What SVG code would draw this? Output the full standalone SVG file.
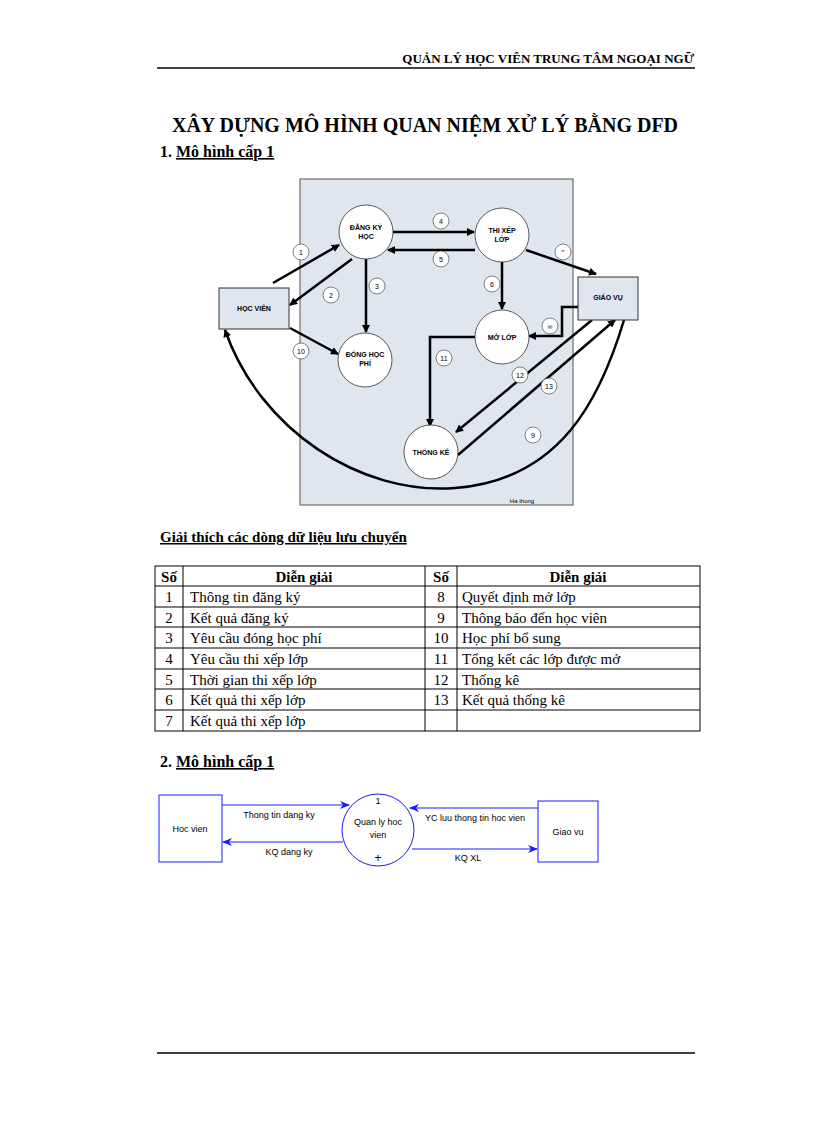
<svg xmlns="http://www.w3.org/2000/svg" width="816" height="1123" viewBox="0 0 816 1123">
<defs>
<marker id="ab" markerWidth="8" markerHeight="8" refX="7" refY="4" orient="auto" markerUnits="userSpaceOnUse"><path d="M0,0 L8,4 L0,8 z" fill="#000"/></marker>
<marker id="abl" markerWidth="10" markerHeight="8" refX="9" refY="4" orient="auto" markerUnits="userSpaceOnUse"><path d="M0,0 L10,4 L0,8 L3,4 z" fill="#1a1aff"/></marker>
<style>
.t{font-family:"Liberation Serif",serif;font-size:15px;fill:#000}
.b{font-weight:bold}
.s{font-family:"Liberation Sans",Arial,sans-serif;font-size:7px;font-weight:bold;fill:#000;text-anchor:middle}
.n{font-family:"Liberation Sans",Arial,sans-serif;font-size:7px;fill:#000;text-anchor:middle}
.c{fill:#fff;stroke:#333;stroke-width:0.8}
.cn{fill:#fff;stroke:#333;stroke-width:0.6}
.e{stroke:#000;stroke-width:2.5;fill:none;marker-end:url(#ab)}
.bl{stroke:#1a1aff;stroke-width:1;fill:none}
.l2{font-family:"Liberation Sans",Arial,sans-serif;font-size:9px;fill:#000;text-anchor:middle}
.g{stroke:#000;stroke-width:1}
</style>
</defs>
<text x="694" y="63" class="t b" font-size="13" text-anchor="end" style="font-size:13px">QUẢN LÝ HỌC VIÊN TRUNG TÂM NGOẠI NGỮ</text>
<line x1="157" y1="68" x2="695" y2="68" stroke="#000" stroke-width="1.5"/>
<text x="425" y="132" class="t b" text-anchor="middle" style="font-size:20px">XÂY DỰNG MÔ HÌNH  QUAN NIỆM XỬ LÝ BẰNG DFD</text>
<text x="160" y="157" class="t b" style="font-size:16px">1. <tspan text-decoration="underline">Mô hình cấp 1</tspan></text>

<rect x="300" y="179" width="273" height="326" fill="#dfe6ee" stroke="#555" stroke-width="1"/>
<text x="522" y="503" class="n" style="font-size:6px;font-weight:normal">Ha thong</text>

<g id="connectors">
<path class="e" d="M273,283 L339,245"/>
<path class="e" d="M352,259 L290,305"/>
<path class="e" d="M366,259 L366,332"/>
<path class="e" d="M393,232 L474,232"/>
<path class="e" d="M475,250 L388,250"/>
<path class="e" d="M502,262 L502,309"/>
<path class="e" d="M526,250 L596,274"/>
<path class="e" d="M578,307 L562,307 L562,336 L529,336"/>
<path class="e" d="M475,337 L430,337 L430,426"/>
<path class="e" d="M592,320 L456,432"/>
<path class="e" d="M458,455 L615,320"/>
<path class="e" d="M290,328 L338,354"/>
<path class="e" d="M624,320 C600,400 560,480 455,488 C360,495 260,430 225,330"/>
</g>
<g id="labels">
<circle cx="301" cy="252" r="8" class="cn"/><text x="301" y="255" class="n">1</text>
<circle cx="331" cy="295" r="8" class="cn"/><text x="331" y="298" class="n">2</text>
<circle cx="377" cy="286" r="8" class="cn"/><text x="377" y="289" class="n">3</text>
<circle cx="441" cy="221" r="8" class="cn"/><text x="441" y="224" class="n">4</text>
<circle cx="441" cy="259" r="8" class="cn"/><text x="441" y="262" class="n">5</text>
<circle cx="492" cy="284" r="8" class="cn"/><text x="492" y="287" class="n">6</text>
<circle cx="563" cy="252" r="8" class="cn"/><text x="563" y="255" class="n">⌃</text>
<circle cx="550" cy="326" r="8" class="cn"/><text x="550" y="329" class="n">∞</text>
<circle cx="444" cy="358" r="8" class="cn"/><text x="444" y="361" class="n">11</text>
<circle cx="520" cy="375" r="8" class="cn"/><text x="520" y="378" class="n">12</text>
<circle cx="549" cy="386" r="8" class="cn"/><text x="549" y="389" class="n">13</text>
<circle cx="533" cy="435" r="8" class="cn"/><text x="533" y="438" class="n">9</text>
<circle cx="301" cy="351" r="8" class="cn"/><text x="301" y="354" class="n">10</text>
</g>
<g id="hocvien"><rect x="219" y="288" width="70" height="41" fill="#dfe6ee" stroke="#333"/><text x="254" y="311" class="s">HỌC VIÊN</text></g>
<g id="giaovu"><rect x="578" y="277" width="60" height="43" fill="#dfe6ee" stroke="#333"/><text x="608" y="300" class="s">GIÁO VỤ</text></g>
<g id="dangky"><circle cx="366" cy="232" r="27" class="c"/><text x="366" y="230" class="s">ĐĂNG KÝ</text><text x="366" y="239" class="s">HỌC</text></g>
<g id="thixep"><circle cx="502" cy="235" r="27" class="c"/><text x="502" y="233" class="s">THI XẾP</text><text x="502" y="242" class="s">LỚP</text></g>
<g id="donghp"><circle cx="365" cy="360" r="27" class="c"/><text x="365" y="357" class="s">ĐÓNG HỌC</text><text x="365" y="366" class="s">PHÍ</text></g>
<g id="molop"><circle cx="502" cy="337" r="27" class="c"/><text x="502" y="340" class="s">MỞ LỚP</text></g>
<g id="thongke"><circle cx="431" cy="452" r="27" class="c"/><text x="431" y="455" class="s">THỐNG KÊ</text></g>

<text x="160" y="542" class="t b" style="font-size:15px" text-decoration="underline">Giải thích các dòng dữ liệu lưu chuyển</text>

<g id="table">
<rect x="155" y="566" width="545" height="165" fill="none" stroke="#000"/>
<g class="g">
<line x1="155" y1="586" x2="700" y2="586"/><line x1="155" y1="607" x2="700" y2="607"/><line x1="155" y1="627" x2="700" y2="627"/><line x1="155" y1="648" x2="700" y2="648"/><line x1="155" y1="669" x2="700" y2="669"/><line x1="155" y1="689" x2="700" y2="689"/><line x1="155" y1="710" x2="700" y2="710"/>
<line x1="183" y1="566" x2="183" y2="731"/><line x1="425" y1="566" x2="425" y2="731"/><line x1="457" y1="566" x2="457" y2="731"/>
</g>
<text x="169" y="582" class="t b" text-anchor="middle">Số</text><text x="304" y="582" class="t b" text-anchor="middle">Diễn giải</text><text x="441" y="582" class="t b" text-anchor="middle">Số</text><text x="578" y="582" class="t b" text-anchor="middle">Diễn giải</text>
<g class="t" text-anchor="middle"><text x="169" y="602">1</text><text x="169" y="623">2</text><text x="169" y="643">3</text><text x="169" y="664">4</text><text x="169" y="685">5</text><text x="169" y="705">6</text><text x="169" y="726">7</text>
<text x="441" y="602">8</text><text x="441" y="623">9</text><text x="441" y="643">10</text><text x="441" y="664">11</text><text x="441" y="685">12</text><text x="441" y="705">13</text></g>
<g class="t"><text x="190" y="602">Thông tin đăng ký</text><text x="190" y="623">Kết quả đăng ký</text><text x="190" y="643">Yêu cầu đóng học phí</text><text x="190" y="664">Yêu cầu thi xếp lớp</text><text x="190" y="685">Thời gian thi xếp lớp</text><text x="190" y="705">Kết quả thi xếp lớp</text><text x="190" y="726">Kết quả thi xếp lớp</text>
<text x="462" y="602">Quyết định mở lớp</text><text x="462" y="623">Thông báo đến học viên</text><text x="462" y="643">Học phí bổ sung</text><text x="462" y="664">Tổng kết các lớp được mở</text><text x="462" y="685">Thống kê</text><text x="462" y="705">Kết quả thống kê</text></g>
</g>

<text x="160" y="767" class="t b" style="font-size:16px">2. <tspan text-decoration="underline">Mô hình cấp 1</tspan></text>

<g id="connectors2">
<path class="bl" marker-end="url(#abl)" d="M222,805 L349,805"/>
<path class="bl" marker-end="url(#abl)" d="M343,842 L223,842"/>
<path class="bl" marker-end="url(#abl)" d="M538,808 L410,808"/>
<path class="bl" marker-end="url(#abl)" d="M412,849 L537,849"/>
</g>
<text x="279" y="818" class="l2">Thong tin dang ky</text>
<text x="289" y="855" class="l2">KQ dang ky</text>
<text x="475" y="821" class="l2">YC luu thong tin hoc vien</text>
<text x="468" y="861" class="l2">KQ XL</text>
<g id="hv2"><rect x="159" y="795" width="63" height="67" fill="#fff" stroke="#1a1aff"/><text x="190" y="832" class="l2">Hoc vien</text></g>
<g id="gv2"><rect x="538" y="801" width="60" height="61" fill="#fff" stroke="#1a1aff"/><text x="568" y="835" class="l2">Giao vu</text></g>
<g id="ql2"><circle cx="378" cy="830" r="36" fill="#fff" stroke="#1a1aff"/><text x="378" y="804" class="l2">1</text><text x="378" y="825" class="l2">Quan ly hoc</text><text x="378" y="838" class="l2">vien</text><text x="378" y="862" class="l2" style="font-size:12px">+</text></g>

<line x1="157" y1="1053" x2="695" y2="1053" stroke="#000" stroke-width="1.5"/>
</svg>
